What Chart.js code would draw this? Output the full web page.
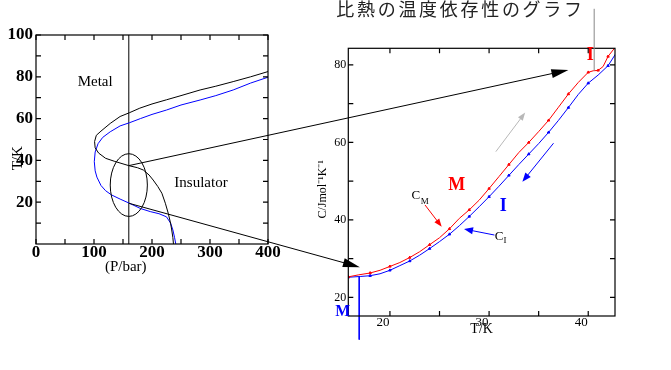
<!DOCTYPE html>
<html>
<head>
<meta charset="utf-8">
<script src="https://cdn.jsdelivr.net/npm/chart.js@4.4.0/dist/chart.umd.min.js"></script>
<style>
  html, body { margin: 0; padding: 0; background: #fff; }
  #wrap { position: relative; width: 671px; height: 370px; }
  #wrap canvas { position: absolute; left: 0; top: 0; }
</style>
</head>
<body>
<div id="wrap">
  <canvas id="phase" width="671" height="370"></canvas>
  <canvas id="heat" width="671" height="370"></canvas>
</div>
<script>
// phase diagram (left): pressure / temperature boundaries
const blackP = [400, 370, 340, 310, 283, 250, 225, 200, 179, 161, 145, 128, 112, 104, 101, 102, 108, 120, 136, 160, 175, 185, 195, 202, 210, 217, 223, 228, 232, 234, 236, 237];
const blackT = [82.5, 80, 77.7, 75.5, 73.7, 71, 69, 67, 65, 62.8, 61, 57.7, 54, 52, 49, 46, 43.5, 41, 39.5, 37.5, 36.5, 35.4, 33, 30.6, 27.5, 24.3, 19.5, 14.7, 10, 6.7, 3, 0];
const blueP = [400, 370, 340, 310, 283, 250, 225, 200, 180, 161, 145, 128, 115, 107, 102, 100.5, 102, 105, 112, 120, 130, 145, 161, 180, 197, 212, 225, 232, 236, 239, 241];
const blueT = [79.8, 77, 73.7, 71, 68.9, 66.5, 64.1, 62, 60, 58, 56.5, 53.7, 51, 48, 44, 39.4, 35, 32, 28, 25.5, 23.5, 21.5, 19.5, 17, 15.5, 14.5, 13, 10, 6.7, 3, 0];
const cutP = 160;
const pressTicks = [0, 100, 200, 300, 400];
const pressMinor = [50, 150, 250, 350];
const tempTicks = [20, 40, 60, 80, 100];
const tempMinor = [10, 30, 50, 70, 90];

// specific heat (right): metal branch C_M and insulator branch C_I
const mT = [15.8, 16.8, 18, 19, 20, 21, 22, 23, 24, 25, 26, 27, 28, 29, 30, 31, 32, 33, 34, 35, 36, 37, 38, 39, 40, 40.5, 41, 41.5, 42, 42.7];
const mC = [25.3, 25.8, 26.3, 27.0, 28.0, 29.0, 30.3, 31.8, 33.6, 35.4, 37.7, 40.4, 42.6, 45.1, 48.1, 51.2, 54.3, 57.4, 60.0, 62.8, 65.7, 69.1, 72.5, 75.5, 78.1, 78.5, 78.6, 79.6, 82.2, 84.5];
const iT = [15.8, 17, 18, 19, 20, 21, 22, 23, 24, 25, 26, 27, 28, 29, 30, 31, 32, 33, 34, 35, 36, 37, 38, 39, 40, 41, 42, 42.8];
const iC = [25.2, 25.4, 25.6, 26.1, 27.0, 28.2, 29.4, 30.9, 32.6, 34.4, 36.3, 38.5, 40.9, 43.4, 46.0, 48.7, 51.5, 54.3, 57.0, 59.7, 62.6, 65.7, 69.0, 72.4, 75.3, 77.4, 79.8, 83.0];
const heatT = [20, 30, 40];
const heatTMinor = [25, 35];
const heatC = [20, 40, 60, 80];
const heatCMinor = [30, 50, 70];

const pageTitle = '比熱の温度依存性のグラフ';

const serif = "'Liberation Serif', 'Times New Roman', serif";
Chart.defaults.font.family = serif;
Chart.defaults.color = '#000';

function pts(xs, ys) {
  return xs.map((v, i) => ({ x: v, y: ys[i] }));
}

// box around plot with inward ticks
function framePlugin(xt, yt) {
  return {
    id: 'frame',
    afterDatasetsDraw(chart) {
      const { ctx, chartArea: a, scales: { x, y } } = chart;
      ctx.save();
      ctx.strokeStyle = '#000';
      ctx.lineWidth = 1.2;
      ctx.strokeRect(a.left, a.top, a.right - a.left, a.bottom - a.top);
      ctx.beginPath();
      xt.forEach(v => {
        const px = x.getPixelForValue(v);
        ctx.moveTo(px, a.bottom); ctx.lineTo(px, a.bottom - 5);
        ctx.moveTo(px, a.top); ctx.lineTo(px, a.top + 5);
      });
      yt.forEach(v => {
        const py = y.getPixelForValue(v);
        ctx.moveTo(a.left, py); ctx.lineTo(a.left + 5, py);
        ctx.moveTo(a.right, py); ctx.lineTo(a.right - 5, py);
      });
      ctx.stroke();
      ctx.restore();
    }
  };
}

function arrow(ctx, x1, y1, x2, y2, color, head, half, width) {
  const ang = Math.atan2(y2 - y1, x2 - x1);
  ctx.save();
  ctx.strokeStyle = color;
  ctx.fillStyle = color;
  ctx.lineWidth = width || 1;
  ctx.beginPath();
  ctx.moveTo(x1, y1);
  ctx.lineTo(x2 - Math.cos(ang) * head * 0.6, y2 - Math.sin(ang) * head * 0.6);
  ctx.stroke();
  ctx.translate(x2, y2);
  ctx.rotate(ang);
  ctx.beginPath();
  ctx.moveTo(0, 0);
  ctx.lineTo(-head, -half);
  ctx.lineTo(-head, half);
  ctx.closePath();
  ctx.fill();
  ctx.restore();
}

function label(ctx, text, x, y, font, color) {
  ctx.save();
  ctx.font = font;
  ctx.fillStyle = color;
  ctx.textAlign = 'center';
  ctx.textBaseline = 'middle';
  ctx.fillText(text, x, y);
  ctx.restore();
}

const phaseNotes = {
  id: 'phaseNotes',
  afterDatasetsDraw(chart) {
    const { ctx, scales: { x, y } } = chart;
    label(ctx, 'Metal', x.getPixelForValue(102), y.getPixelForValue(77.7), '15px ' + serif, '#000');
    label(ctx, 'Insulator', x.getPixelForValue(284.5), y.getPixelForValue(29.2), '15px ' + serif, '#000');
    const cx = x.getPixelForValue(160), cy = y.getPixelForValue(28.2);
    const rx = x.getPixelForValue(192) - cx, ry = cy - y.getPixelForValue(43.2);
    ctx.save();
    ctx.strokeStyle = '#000';
    ctx.lineWidth = 1;
    ctx.beginPath();
    ctx.ellipse(cx, cy, rx, ry, 0, 0, Math.PI * 2);
    ctx.stroke();
    ctx.restore();
  }
};

const phaseChart = new Chart(document.getElementById('phase'), {
  type: 'scatter',
  data: {
    datasets: [
      { data: pts(blackP, blackT), borderColor: '#000', showLine: true },
      { data: pts(blueP, blueT), borderColor: '#0000ff', showLine: true },
      { data: [{ x: cutP, y: 0 }, { x: cutP, y: 100 }], borderColor: '#000', showLine: true }
    ]
  },
  options: {
    responsive: false,
    animation: false,
    events: [],
    layout: { padding: { left: 0, top: 35, right: 403, bottom: 94 } },
    elements: { point: { radius: 0 }, line: { borderWidth: 1, tension: 0 } },
    plugins: { legend: { display: false }, tooltip: { enabled: false } },
    scales: {
      x: {
        min: 0, max: 400,
        grid: { display: false, drawTicks: false },
        border: { display: false },
        afterBuildTicks: s => { s.ticks = pressTicks.map(v => ({ value: v })); },
        afterFit: s => { s.height = 32; },
        ticks: { padding: 0, font: { size: 17, weight: 'bold', lineHeight: 1 } },
        title: { display: true, text: '(P/bar)\u2003\u2003\u2003\u2002', font: { size: 15 }, padding: { top: 0, bottom: 0 } }
      },
      y: {
        min: 0, max: 100,
        grid: { display: false, drawTicks: false },
        border: { display: false },
        afterBuildTicks: s => { s.ticks = tempTicks.map(v => ({ value: v })); },
        afterFit: s => { s.width = 36; },
        ticks: { padding: 3, font: { size: 17, weight: 'bold', lineHeight: 1 } },
        title: { display: true, text: 'T/K\u2003\u2003\u2002', font: { size: 15 }, padding: { top: 9, bottom: 0 } }
      }
    }
  },
  plugins: [framePlugin(pressTicks.concat(pressMinor), tempTicks.concat(tempMinor)), phaseNotes]
});

const heatNotes = {
  id: 'heatNotes',
  afterDraw(chart) {
    const { ctx, chartArea: a, scales: { x, y } } = chart;
    const px = v => x.getPixelForValue(v), py = v => y.getPixelForValue(v);

    // page heading
    ctx.save();
    ctx.font = "18px 'Noto Sans CJK JP', sans-serif";
    ctx.fillStyle = '#222';
    ctx.textBaseline = 'middle';
    [...pageTitle].forEach((ch, i) => ctx.fillText(ch, a.left - 12 + i * 20.7, 9));
    ctx.restore();

    // grey pointer from heading down to the kink
    ctx.save();
    ctx.strokeStyle = '#888';
    ctx.lineWidth = 1;
    ctx.beginPath();
    ctx.moveTo(px(40.6), py(94.5));
    ctx.lineTo(px(40.6), py(78.5));
    ctx.stroke();
    ctx.restore();

    // links from the phase diagram
    const ps = phaseChart.scales;
    arrow(ctx, ps.x.getPixelForValue(cutP), ps.y.getPixelForValue(37.5), px(38.0), py(78.7), '#000', 17, 4.5, 1);
    arrow(ctx, ps.x.getPixelForValue(cutP), ps.y.getPixelForValue(19.5), px(16.97), py(27.8), '#000', 17, 4.5, 1);

    // branch labels
    const big = 'bold 18px ' + serif;
    label(ctx, 'I', px(40.2), py(82.6), big, '#ff0000');
    label(ctx, 'M', px(26.74), py(49.0), big, '#ff0000');
    label(ctx, 'I', px(31.44), py(43.6), big, '#0000ff');
    label(ctx, 'M', px(15.25), py(16.3), 'bold 16px ' + serif, '#0000ff');

    // C_M and C_I with pointers
    label(ctx, 'C', px(22.6), py(46.2), '13px ' + serif, '#000');
    label(ctx, 'M', px(23.5), py(44.75), '9px ' + serif, '#000');
    label(ctx, 'C', px(31.0), py(35.8), '13px ' + serif, '#000');
    label(ctx, 'I', px(31.6), py(34.6), '9px ' + serif, '#000');
    arrow(ctx, px(23.54), py(43.85), px(25.22), py(38.24), '#ff0000', 8, 3, 1);
    arrow(ctx, px(30.54), py(36.1), px(27.47), py(37.65), '#0000ff', 9, 3.5, 1);

    // direction arrows
    arrow(ctx, px(30.68), py(57.62), px(33.64), py(67.7), '#b8b8b8', 8, 3, 1);
    arrow(ctx, px(36.5), py(59.8), px(33.36), py(49.87), '#0000ff', 9, 3.5, 1);
  }
};

const markerSize = c => (c.dataIndex % 2 ? 0 : 1.4);

new Chart(document.getElementById('heat'), {
  type: 'scatter',
  data: {
    datasets: [
      { data: pts(mT, mC), borderColor: '#ff0000', backgroundColor: '#ff0000', showLine: true, pointRadius: markerSize, pointStyle: 'triangle' },
      { data: pts(iT, iC), borderColor: '#0000ff', backgroundColor: '#0000ff', showLine: true, pointRadius: markerSize, pointStyle: 'triangle' },
      { data: [{ x: 16.9, y: 25.3 }, { x: 16.9, y: 9.1 }], borderColor: '#0000ff', showLine: true, pointRadius: 0, clip: false }
    ]
  },
  options: {
    responsive: false,
    animation: false,
    events: [],
    layout: { padding: { left: 316, top: 48.3, right: 56, bottom: 34 } },
    elements: { line: { borderWidth: 1, tension: 0 } },
    plugins: { legend: { display: false }, tooltip: { enabled: false } },
    scales: {
      x: {
        min: 15.8, max: 42.7,
        grid: { display: false, drawTicks: false },
        border: { display: false },
        afterBuildTicks: s => { s.ticks = heatT.map(v => ({ value: v })); },
        afterFit: s => { s.height = 20; },
        ticks: { padding: 0, labelOffset: -7, font: { size: 13, lineHeight: 1 } },
        title: { display: true, text: 'T/K', font: { size: 14, lineHeight: 1 }, padding: { top: 0, bottom: 0 } }
      },
      y: {
        min: 15.2, max: 84.3,
        grid: { display: false, drawTicks: false },
        border: { display: false },
        afterBuildTicks: s => { s.ticks = heatC.map(v => ({ value: v })); },
        afterFit: s => { s.width = 32.3; },
        ticks: { padding: 2, font: { size: 12, lineHeight: 1 } },
        title: { display: true, text: 'C/Jmol\u207b\u00b9K\u207b\u00b9\u2003\u2009', font: { size: 12 }, padding: { top: 0, bottom: 0 } }
      }
    }
  },
  plugins: [framePlugin(heatT.concat(heatTMinor), heatC.concat(heatCMinor)), heatNotes]
});
</script>
</body>
</html>
